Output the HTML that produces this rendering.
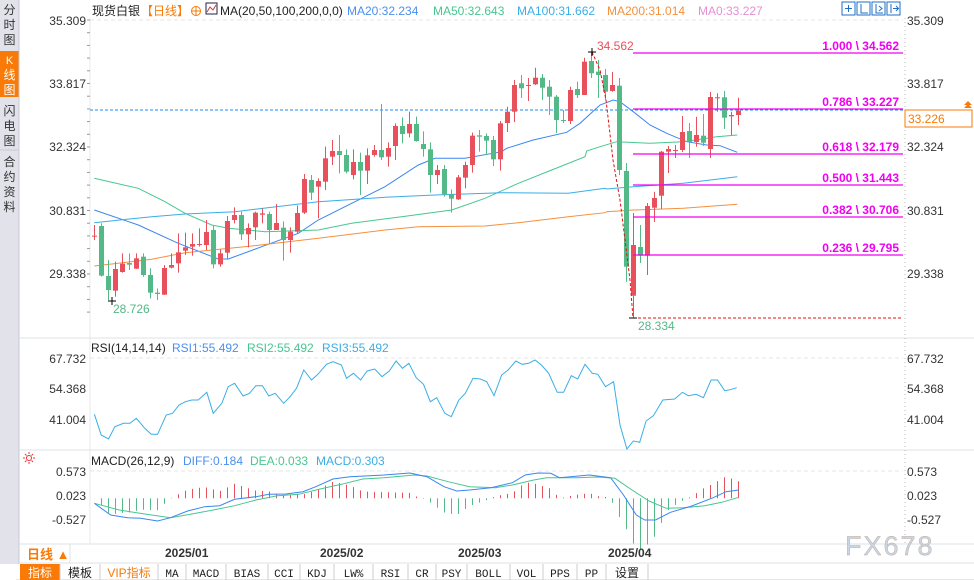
<!DOCTYPE html>
<html><head><meta charset="utf-8"><style>
body{margin:0;width:974px;height:580px;overflow:hidden;background:#fff;font-family:"Liberation Sans","Noto Sans CJK SC",sans-serif;}
svg{position:absolute;left:0;top:0}
</style></head><body>
<svg id="s" width="974" height="580" xmlns="http://www.w3.org/2000/svg" font-family="Liberation Sans, Noto Sans CJK SC, sans-serif">
<rect x="0" y="0" width="974" height="580" fill="#fff"/>
<rect x="0" y="0" width="19" height="564" fill="#e1e2ea"/>
<rect x="0" y="51" width="19" height="46" fill="#f97a06"/>
<line x1="19" y1="0" x2="19" y2="564" stroke="#c8c8d0"/>
<g font-size="12" fill="#333" text-anchor="middle">
<text x="9.5" y="14">分</text><text x="9.5" y="29">时</text><text x="9.5" y="44">图</text>
<text x="9.5" y="64" fill="#fff" font-size="11">K</text><text x="9.5" y="79" fill="#fff">线</text><text x="9.5" y="94" fill="#fff">图</text>
<text x="9.5" y="115">闪</text><text x="9.5" y="130">电</text><text x="9.5" y="145">图</text>
<line x1="0" y1="150" x2="19" y2="150" stroke="#c8c8d0"/>
<text x="9.5" y="166">合</text><text x="9.5" y="181">约</text><text x="9.5" y="196">资</text><text x="9.5" y="211">料</text>
</g>
<g stroke="#dde3ea">
<line x1="19" y1="338" x2="974" y2="338"/><line x1="19" y1="450" x2="974" y2="450"/>
<line x1="19" y1="544" x2="974" y2="544"/><line x1="19" y1="563" x2="974" y2="563"/>
</g>
<line x1="90" y1="18" x2="90" y2="544" stroke="#e8e8e8"/>
<line x1="905" y1="18" x2="905" y2="544" stroke="#bbb" stroke-dasharray="1,3"/>
<line x1="70" y1="544" x2="70" y2="563" stroke="#dde3ea"/>
<g stroke="#e4e4e4" stroke-dasharray="4,3">
<line x1="90" y1="20" x2="903" y2="20"/><line x1="90" y1="358" x2="903" y2="358"/><line x1="90" y1="471" x2="903" y2="471"/>
</g>
<g font-size="12">
<text x="92" y="15" fill="#222">现货白银</text>
<text x="141" y="15" fill="#f97a06">【日线】</text>
<circle cx="196" cy="11" r="4.5" fill="none" stroke="#f97a06"/><line x1="191" y1="11" x2="201" y2="11" stroke="#f97a06"/><line x1="196" y1="6" x2="196" y2="16" stroke="#f97a06"/>
<rect x="206" y="3" width="11" height="11" fill="#fff" stroke="#224"/><polyline points="207,12 210,7 213,10 216,5" fill="none" stroke="#d33"/>
<text x="220" y="15" fill="#222">MA(20,50,100,200,0,0)</text>
<text x="347" y="15" fill="#4a8ff0">MA20:32.234</text>
<text x="433" y="15" fill="#48c690">MA50:32.643</text>
<text x="517" y="15" fill="#3aaee6">MA100:31.662</text>
<text x="607" y="15" fill="#f5903d">MA200:31.014</text>
<text x="698" y="15" fill="#e58fd6">MA0:33.227</text>
</g>
<g fill="none" stroke="#1e6fc8">
<rect x="842" y="2" width="13" height="13"/><rect x="857" y="2" width="13" height="13"/><rect x="872" y="2" width="13" height="13"/><rect x="887" y="2" width="13" height="13"/>
<path d="M845 8.5h7M848.5 5v7M861 4v9h7M876 4v9h7M879 6l3 2.5-3 2.5M891 4v9M893 8.5h5M896 6l2.5 2.5-2.5 2.5"/>
</g>
<g font-size="12" fill="#333">
<g text-anchor="end">
<text x="86" y="25">35.309</text><text x="86" y="88">33.817</text><text x="86" y="151">32.324</text><text x="86" y="215">30.831</text><text x="86" y="278">29.338</text>
<text x="86" y="363">67.732</text><text x="86" y="393">54.368</text><text x="86" y="424">41.004</text>
<text x="86" y="476">0.573</text><text x="86" y="500">0.023</text><text x="86" y="524">-0.527</text>
</g>
<text x="907" y="25">35.309</text><text x="907" y="88">33.817</text><text x="907" y="151">32.324</text><text x="907" y="215">30.831</text><text x="907" y="278">29.338</text>
<text x="907" y="363">67.732</text><text x="907" y="393">54.368</text><text x="907" y="424">41.004</text>
<text x="907" y="476">0.573</text><text x="907" y="500">0.023</text><text x="907" y="524">-0.527</text>
</g>
<g id="ticks" stroke="#999"></g>
<line x1="90" y1="110" x2="903" y2="110" stroke="#1e88f0" stroke-dasharray="3,2"/>
<rect x="905" y="110" width="67" height="17" fill="#fff" stroke="#f97a06"/>
<text x="908" y="123" font-size="12" fill="#f97a06">33.226</text>
<path d="M964 105l4-4 4 4zM964 108l4-4 4 4z" fill="#f97a06"/>
<g id="ma" fill="none" stroke-width="1"></g>
<g id="cd"></g>
<g stroke="#f000f0" stroke-width="1.2">
<line x1="633" y1="53" x2="903" y2="53"/><line x1="633" y1="109" x2="903" y2="109"/><line x1="633" y1="154" x2="903" y2="154"/>
<line x1="633" y1="185" x2="903" y2="185"/><line x1="633" y1="217" x2="903" y2="217"/><line x1="633" y1="255" x2="903" y2="255"/>
</g>
<g font-size="12" font-weight="bold" fill="#f000f0" text-anchor="end">
<text x="899" y="50">1.000 \ 34.562</text><text x="899" y="106">0.786 \ 33.227</text><text x="899" y="151">0.618 \ 32.179</text>
<text x="899" y="182">0.500 \ 31.443</text><text x="899" y="214">0.382 \ 30.706</text><text x="899" y="252">0.236 \ 29.795</text>
</g>
<polyline points="592,52 600,70 606,100 613,160 620,200 625,240 630,280 633,318" fill="none" stroke="#e01010" stroke-dasharray="3,2"/>
<line x1="633" y1="318" x2="903" y2="318" stroke="#e01010" stroke-dasharray="3,2"/>
<path d="M588 52h8M592 48v8M629 318h8M108 301h8M112 297v8" stroke="#000"/>
<text x="597" y="50" font-size="12" fill="#e8505b">34.562</text>
<text x="638" y="330" font-size="12" fill="#52b987">28.334</text>
<text x="113" y="313" font-size="12" fill="#52b987">28.726</text>
<g font-size="12">
<text x="91" y="352" fill="#222">RSI(14,14,14)</text><text x="172" y="352" fill="#4a8ff0">RSI1:55.492</text>
<text x="247" y="352" fill="#48c690">RSI2:55.492</text><text x="322" y="352" fill="#3aaee6">RSI3:55.492</text>
<text x="91" y="465" fill="#222">MACD(26,12,9)</text><text x="183" y="465" fill="#4a8ff0">DIFF:0.184</text>
<text x="250" y="465" fill="#48c690">DEA:0.033</text><text x="316" y="465" fill="#3aaee6">MACD:0.303</text>
</g>
<g stroke="#e33" fill="none"><circle cx="29" cy="458" r="2.5"/><path d="M29 452v2M29 462v2M23 458h2M33 458h2M25 454l1.5 1.5M33 454l-1.5 1.5M25 462l1.5-1.5M33 462l-1.5-1.5"/></g>
<g id="ind" fill="none"></g>
<g font-size="12" font-weight="bold" fill="#333">
<text x="165" y="557">2025/01</text><text x="320" y="557">2025/02</text><text x="458" y="557">2025/03</text><text x="608" y="557">2025/04</text>
</g>
<text x="27" y="559" font-size="13" font-weight="bold" fill="#f97a06">日线 ▲</text>
<text x="845" y="555" font-size="27" fill="#c9d6e6" letter-spacing="2" stroke="#b8a89a" stroke-width="0.4">FX678</text>
<rect x="16" y="564" width="958" height="16" fill="#fff"/>
<line x1="16" y1="580" x2="974" y2="580" stroke="#ccc"/>
<rect x="20" y="564" width="40" height="16" fill="#f97a06"/>
<g id="tb" font-size="12"></g>
</svg>
<script>
var NS="http://www.w3.org/2000/svg";
function el(p,t,a){var e=document.createElementNS(NS,t);for(var k in a)e.setAttribute(k,a[k]);p.appendChild(e);return e;}
var R="#e8505b",G="#52b987";
var A=[[437,440,405,450,'r'],[408,557,400,560,'g'],[558,600,510,630,'g'],[537,602,515,620,'r'],[521,546,490,548,'r'],[519,524,490,540,'g'],[505,536,490,537,'r'],[500,555,490,560,'g'],[555,608,535,625,'g'],[608,612,595,630,'g'],[534,614,525,615,'r'],[525,533,490,535,'r'],[487,520,430,548,'r'],[472,482,428,495,'r'],[462,470,430,497,'r'],[462,465,415,470,'r'],[426,465,390,480,'r'],[420,523,408,535,'g'],[490,523,478,530,'r'],[393,488,378,505,'r'],[375,390,352,400,'r'],[375,433,365,450,'g'],[414,433,400,472,'r'],[368,412,365,450,'r'],[370,374,355,400,'r'],[372,420,365,462,'g'],[399,420,342,420,'r'],[413,450,394,512,'g'],[425,450,412,488,'r'],[369,425,347,430,'r'],[267,368,252,372,'r'],[270,308,255,330,'g'],[273,290,265,385,'r'],[205,275,170,300,'r'],[183,200,150,225,'r'],[183,195,135,250,'g'],[195,245,178,250,'g'],[216,255,178,268,'r'],[216,242,188,315,'g'],[196,242,175,282,'r'],[180,195,165,200,'r'],[180,202,42,210,'g'],[174,200,157,230,'r'],[108,168,100,210,'r'],[108,132,82,160,'g'],[102,130,65,142,'r'],[102,153,80,155,'g'],[162,177,124,200,'g'],[178,255,157,308,'g'],[240,255,225,282,'r'],[237,313,225,320,'g'],[313,326,298,368,'g'],[262,328,255,330,'r'],[225,263,215,295,'r'],[137,225,128,248,'r'],[136,140,120,185,'g'],[138,152,130,195,'g'],[150,208,138,228,'g'],[100,208,93,242,'r']];
var B=[[111.7,123,106.7,132,'r'],[85,111.7,80,122,'r'],[83.3,88.3,75,98,'g'],[85,85.5,78,101,'r'],[77.7,84.3,67.7,85,'r'],[77.7,87.7,74,100,'g'],[86.7,96.7,80,115,'g'],[96.7,120,95,133,'g'],[120,121,110,123,'g'],[90,121,86.7,124,'r'],[89,95,81.7,98,'g'],[61.7,95,57.7,95,'r'],[61,73.3,52.3,78,'g'],[71.7,75,60,98,'g'],[75,91.7,69,100,'g'],[85,91,72,91.7,'r'],[85.7,170,78,175,'g'],[171,266.7,163,281.7,'g'],[245,295.7,213,318.3,'r'],[247,255.7,225,263,'g'],[206,255.7,203,275,'r'],[198,207.7,191.7,222,'r'],[151.7,195.7,151,209,'r'],[149,151.7,146,173,'r'],[150,150.6,145,158,'r'],[132,150,116,152,'r'],[131,142,123,158,'g'],[135,142,116.7,146.7,'r'],[135.7,142.7,114,146,'g'],[97,149,92,158,'r'],[97.3,97.9,93.3,111.7,'r'],[97.3,117.7,91,129,'g'],[115,116.3,111.7,135,'r'],[110.7,115,97.7,125,'r']];
var C=[];A.forEach(function(c){C.push([90+c[0]/3,90+c[1]/3,90+c[2]/3,90+c[3]/3,c[4]]);});B.forEach(function(c){C.push(c);});
var cd=document.getElementById('cd');
C.forEach(function(c,i){var x=94+7*i,col=c[4]=='r'?R:G;
el(cd,'line',{x1:x+0.5,x2:x+0.5,y1:c[2],y2:c[3],stroke:col});
el(cd,'rect',{x:x-2,y:c[0],width:5,height:Math.max(1,c[1]-c[0]),fill:col});});
var SX=2.34;
function pl(g,pts,ox,oy,col){var s=pts.map(function(p){return (ox+p[0]/SX).toFixed(1)+','+(oy+p[1]/3).toFixed(1)}).join(' ');el(g,'polyline',{points:s,stroke:col,fill:'none'});}
function pl2(g,a,b,col){var s=a.map(function(p){return (85+p[0]/3).toFixed(1)+','+(90+p[1]/3).toFixed(1)}).concat(b.map(function(p){return (500+p[0]/3).toFixed(1)+','+(45+p[1]/3).toFixed(1)})).join(' ');el(g,'polyline',{points:s,stroke:col,fill:'none'});}
var ma=document.getElementById('ma');
pl2(ma,[[28,360],[160,405],[280,460],[400,507],[430,507],[530,470],[640,430],[700,390],[800,340],[900,290],[1000,225],[1050,205],[1140,205],[1250,185]],[[20,310],[100,285],[200,262],[240,235],[300,180],[340,165],[360,170],[400,200],[450,240],[500,265],[560,290],[620,300],[660,302],[712,322]],'#3a86f0');
pl2(ma,[[28,265],[160,295],[240,335],[300,370],[380,405],[430,415],[540,425],[700,420],[800,400],[950,380],[1100,360],[1200,325],[1300,280],[1400,240],[1500,200]],[[260,318],[300,305],[350,290],[450,295],[550,290],[650,275],[712,270]],'#48c690');
pl2(ma,[[28,398],[200,380],[300,372],[450,365],[700,335],[900,322],[1050,315],[1250,308],[1450,310],[1560,295]],[[320,432],[400,425],[550,415],[712,395]],'#3aaee6');
pl2(ma,[[28,528],[200,508],[300,488],[500,468],[700,445],[900,420],[1000,410],[1200,408],[1300,398],[1450,380],[1560,368]],[[320,500],[400,495],[550,490],[712,478]],'#f5903d');
var ind=document.getElementById('ind');
var rsi=[[22,238],[38,300],[55,312],[70,275],[90,265],[105,265],[120,250],[140,280],[155,298],[170,298],[190,240],[205,235],[220,210],[235,200],[250,195],[265,195],[285,172],[300,235],[320,205],[335,155],[350,145],[370,183],[385,175],[400,152],[415,152],[430,183],[445,175],[465,205],[480,185],[495,160],[512,105],[530,135],[545,118],[565,88],[580,80],[600,90],[612,130],[628,115],[645,135],[660,108],[678,102],[695,125],[712,108],[728,78],[743,100],[758,85],[775,128],[792,148],[808,200],[823,188],[842,235],[857,245],[875,195],[890,175],[908,130],[925,132],[940,140],[957,182],[975,120],[990,105],[1008,78],[1023,88],[1038,85],[1053,75],[1068,90],[1085,115],[1105,172],[1120,172],[1138,122],[1153,132],[1170,88],[1187,115],[1200,118],[1218,155],[1237,140],[1252,270],[1268,342],[1283,318],[1298,322],[1313,258],[1330,242],[1352,195],[1380,192],[1398,172],[1412,182],[1430,178],[1447,188],[1465,135],[1480,135],[1497,167],[1510,164],[1525,158]];
pl(ind,rsi,85,335,'#3aaee6');
var dif=[[22,505],[60,540],[100,548],[130,550],[170,558],[200,548],[240,528],[280,515],[315,512],[350,493],[400,485],[430,478],[470,477],[510,470],[540,455],[580,432],[620,425],[700,420],[760,414],[800,425],[840,455],[870,468],[900,465],[950,458],[1000,443],[1030,420],[1060,414],[1090,415],[1110,428],[1180,420],[1230,428],[1260,480],[1290,540],[1310,555],[1335,555],[1370,532],[1420,513],[1470,488],[1500,470],[1530,465]];
var dea=[[22,505],[80,525],[140,537],[200,548],[250,537],[300,525],[350,512],[400,495],[450,482],[500,478],[550,462],[600,448],[650,432],[700,428],[770,420],[800,423],[850,440],[900,455],[960,458],[1000,450],[1050,435],[1080,428],[1150,428],[1200,426],[1240,430],[1280,465],[1320,498],[1360,520],[1400,518],[1450,512],[1490,502],[1530,487]];
function interp(a,x){for(var i=1;i<a.length;i++){if(x<=a[i][0]){var t=(x-a[i-1][0])/(a[i][0]-a[i-1][0]);return a[i-1][1]+t*(a[i][1]-a[i-1][1]);}}return a[a.length-1][1];}
for(var i=0;i<C.length;i++){var zx=(94+7*i-85)*SX+1;var d=interp(dea,zx)-interp(dif,zx);var h=d*2.3/3;var x=94+7*i+0.5;var y0=498.3;
el(ind,'line',{x1:x,x2:x,y1:y0,y2:y0-h,stroke:h>0?R:G});}
pl(ind,dea,85,335,'#48c690');pl(ind,dif,85,335,'#3a86f0');
var tk=document.getElementById('ticks');
for(var y=20;y<=320;y+=12.7){el(tk,'line',{x1:87,x2:90,y1:y,y2:y});}
var tb=document.getElementById('tb');
var b=[20,60,100,158,186,226,268,300,334,373,408,436,467,510,543,577,606,648];
var names=['指标','模板','VIP指标','MA','MACD','BIAS','CCI','KDJ','LW%','RSI','CR','PSY','BOLL','VOL','PPS','PP','设置'];
names.forEach(function(n,i){var col=i==0?'#fff':(i==2?'#f97a06':'#222');var lat=/^[A-Z%]+$/.test(n);
var t=el(tb,'text',{x:(b[i]+b[i+1])/2,y:577,'text-anchor':'middle',fill:col,'font-family':lat?'Liberation Mono, monospace':'Liberation Sans, Noto Sans CJK SC, sans-serif','font-size':lat?11:12});t.textContent=n;
el(tb,'line',{x1:b[i+1],x2:b[i+1],y1:564,y2:580,stroke:'#ccc'});});
</script>
</body></html>
